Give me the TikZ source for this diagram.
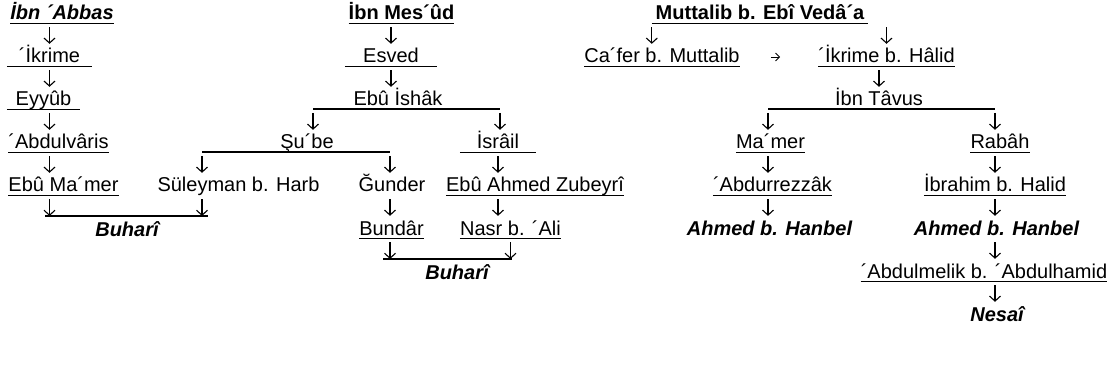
\documentclass[tikz,border=0pt]{standalone}
\usepackage{fontspec}
\setmainfont{Liberation Sans}
\usetikzlibrary{arrows.meta}

\tikzset{
  ravi/.style={font=\fontsize{20}{24}\selectfont, inner sep=0pt, anchor=base,
    text height=15pt, text depth=3pt},
  bas/.style={ravi, font=\fontsize{20}{24}\selectfont\bfseries},
  kitab/.style={ravi, font=\fontsize{20}{24}\selectfont\bfseries\itshape},
  ul/.style={line width=1.2pt},
  dn/.style={-{Straight Barb[length=5pt,width=11pt]}, line width=1.1pt,
    shorten <=4pt, shorten >=4pt},
  yan/.style={-{Straight Barb[length=4pt,width=8pt]}, line width=0.9pt},
}

\begin{document}
\begin{tikzpicture}[x=1pt,y=-1pt]
  \useasboundingbox (0,0) rectangle (1109,385);

  % Ibn Abbas
  \node[kitab] (abbas) at (62,20) {İbn ´Abbas};
  \node[ravi,minimum width=85] (ikrime) at (49.5,63) {´İkrime};
  \node[ravi,minimum width=73] (eyyub) at (43.5,106) {Eyyûb};
  \node[ravi] (abdulvaris) at (58.5,149) {´Abdulvâris};
  \node[ravi] (ebumamer) at (63.5,192) {Ebû Ma´mer};
  \node[ravi] (suleyman) at (238.5,192) {Süleyman b. Harb};
  \node[kitab] (buhari1) at (127,236) {Buharî};

  % Ibn Mesud
  \node[bas] (mesud) at (401.5,20) {İbn Mes´ûd};
  \node[ravi,minimum width=92] (esved) at (391,63) {Esved};
  \node[ravi] (ishak) at (398,106) {Ebû İshâk};
  \node[ravi] (sube) at (307,149) {Şu´be};
  \node[ravi,minimum width=76] (israil) at (498,149) {İsrâil};
  \node[ravi] (gunder) at (392,192) {Ğunder};
  \node[ravi] (ebuahmed) at (535,192) {Ebû Ahmed Zubeyrî};
  \node[ravi] (bundar) at (391.5,235) {Bundâr};
  \node[ravi] (nasr) at (510.5,235) {Nasr b. ´Ali};
  \node[kitab] (buhari2) at (457,279) {Buharî};

  % Muttalib
  \node[bas,minimum width=216] (muttalib) at (760,20) {Muttalib b. Ebî Vedâ´a};
  \node[ravi] (cafer) at (662,63) {Ca´fer b. Muttalib};
  \node[ravi] (ikrimeh) at (886.5,63) {´İkrime b. Hâlid};
  \node[ravi] (tavus) at (879,106) {İbn Tâvus};
  \node[ravi] (mamer) at (770.5,149) {Ma´mer};
  \node[ravi] (rabah) at (1000,149) {Rabâh};
  \node[ravi] (abdurrezzak) at (772.5,192) {´Abdurrezzâk};
  \node[ravi] (ibrahim) at (995,192) {İbrahim b. Halid};
  \node[kitab] (hanbel1) at (769.5,235) {Ahmed b. Hanbel};
  \node[kitab] (hanbel2) at (996.5,235) {Ahmed b. Hanbel};
  \node[ravi] (abdulmelik) at (984,278) {´Abdulmelik b. ´Abdulhamid};
  \node[kitab] (nesai) at (997,321) {Nesaî};

  % branch lines
  \coordinate (ishakL) at (313,109);
  \coordinate (ishakR) at (500,109);
  \coordinate (subeL) at (202,152);
  \coordinate (subeR) at (390,152);
  \coordinate (tavL) at (768,109);
  \coordinate (tavR) at (995,109);
  \coordinate (son1L) at (45,216);
  \coordinate (son1R) at (208,216);
  \coordinate (son2L) at (383,259);
  \coordinate (son2R) at (512,259);

  \foreach \n in {abbas,ikrime,eyyub,abdulvaris,ebumamer,mesud,esved,israil,
    ebuahmed,bundar,nasr,muttalib,cafer,ikrimeh,mamer,rabah,abdurrezzak,
    ibrahim,abdulmelik}
    \draw[ul] (\n.south west) -- (\n.south east);
  \draw[ul] (ishakL) -- (ishakR);
  \draw[ul] (subeL) -- (subeR);
  \draw[ul] (tavL) -- (tavR);
  \draw[ul] (son1L) -- (son1R);
  \draw[ul] (son2L) -- (son2R);

  % arrows
  \draw[dn] (abbas.south -| ikrime) -- (ikrime);
  \draw[dn] (ikrime.south) -- (eyyub.north -| ikrime);
  \draw[dn] (eyyub.south -| ikrime) -- (abdulvaris.north -| ikrime);
  \draw[dn] (abdulvaris.south -| ikrime) -- (ebumamer.north -| ikrime);
  \draw[dn,shorten >=0pt] (ebumamer.south -| ikrime) -- (son1L -| ikrime);
  \draw[dn,shorten >=0pt] (suleyman.south -| subeL) -- (son1L -| subeL);

  \draw[dn] (mesud.south -| esved) -- (esved);
  \draw[dn] (esved) -- (ishak.north -| esved);
  \draw[dn] (ishakL) -- (ishakL |- sube.north);
  \draw[dn] (ishakR) -- (ishakR |- israil.north);
  \draw[dn] (subeL) -- (subeL |- suleyman.north);
  \draw[dn] (subeR) -- (subeR |- gunder.north);
  \draw[dn] (israil) -- (ebuahmed.north -| israil);
  \draw[dn] (gunder.south -| subeR) -- (bundar.north -| subeR);
  \draw[dn] (ebuahmed.south -| israil) -- (nasr.north -| israil);
  \draw[dn,shorten >=0pt] (bundar.south -| subeR) -- (son2L -| subeR);
  \draw[dn,shorten >=0pt] (nasr.south) -- (son2R -| nasr);

  \draw[dn] (muttalib.south west) -- (muttalib.south west |- cafer.north);
  \draw[dn] (muttalib.south -| ikrimeh) -- (ikrimeh);
  \draw[yan,shorten <=31pt,shorten >=38pt] ([yshift=6pt]cafer.base east) -- ([yshift=6pt]ikrimeh.base west);
  \draw[dn] (ikrimeh.south -| tavus) -- (tavus.north);
  \draw[dn] (tavL) -- (tavL |- mamer.north);
  \draw[dn] (tavR) -- (tavR |- rabah.north);
  \draw[dn] (mamer.south -| tavL) -- (abdurrezzak.north -| tavL);
  \draw[dn] (abdurrezzak.south -| tavL) -- (hanbel1.north -| tavL);
  \draw[dn] (rabah.south -| tavR) -- (ibrahim.north -| tavR);
  \draw[dn] (ibrahim.south -| tavR) -- (hanbel2.north -| tavR);
  \draw[dn] (hanbel2.south -| tavR) -- (abdulmelik.north -| tavR);
  \draw[dn] (abdulmelik.south -| tavR) -- (nesai.north -| tavR);
\end{tikzpicture}
\end{document}
